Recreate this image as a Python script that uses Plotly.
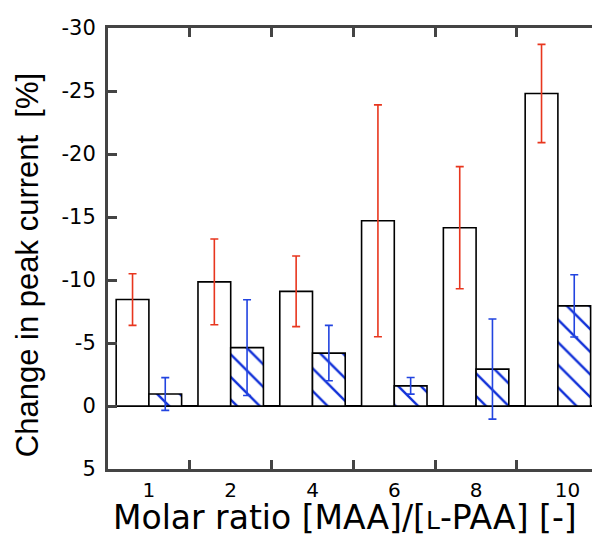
import plotly.graph_objects as go

categories = ["1", "2", "4", "6", "8", "10"]
tick_text = ["1", "2", "4", "6", "8", "\u00a0\u00a0\u00a010"]

# series A: white bars (red error bars)
white_vals = [-8.45, -9.85, -9.1, -14.7, -14.15, -24.8]
white_err = [2.05, 3.4, 2.8, 9.2, 4.85, 3.9]

# series B: hatched bars (blue error bars)
hatch_vals = [-0.95, -4.63, -4.2, -1.6, -2.93, -7.95]
hatch_err = [1.3, 3.8, 2.2, 0.66, 3.97, 2.47]

y_tick_vals = [5, 0, -5, -10, -15, -20, -25, -30]
y_tick_text = ["5", "0", "-5", "-10", "-15", "-20", "-25", "-30"]

fig = go.Figure()
fig.add_trace(go.Bar(
    x=categories, y=white_vals,
    marker=dict(color="white", line=dict(color="black", width=1.6)),
    error_y=dict(type="data", array=white_err, visible=True,
                 color="#e8361e", thickness=1.6, width=4),
    showlegend=False, hoverinfo="skip",
))
fig.add_trace(go.Bar(
    x=categories, y=hatch_vals,
    marker=dict(color="white", line=dict(color="black", width=1.6),
                pattern=dict(shape="\\", fgcolor="#1030d8", bgcolor="white",
                             fgopacity=1, size=16, solidity=0.15)),
    error_y=dict(type="data", array=hatch_err, visible=True,
                 color="#2244e0", thickness=1.6, width=4),
    showlegend=False, hoverinfo="skip",
))

axis_color = "#444444"
fig.update_layout(
    width=592, height=536,
    margin=dict(l=108, r=0, t=28, b=67),
    plot_bgcolor="white", paper_bgcolor="white",
    barmode="group", bargap=0.2, bargroupgap=0,
    xaxis=dict(
        type="category", tickson="boundaries",
        range=[-0.5, 5.417],
        tickvals=categories, ticktext=tick_text,
        showline=True, linecolor=axis_color, linewidth=3, mirror="ticks",
        ticks="inside", ticklen=9, tickwidth=2.5, tickcolor=axis_color,
        showgrid=False, zeroline=False,
        tickfont=dict(family="DejaVu Sans", size=20, color="black"),
        ticklabelstandoff=1,
    ),
    yaxis=dict(
        range=[5, -30], autorange=False,
        tickvals=y_tick_vals, ticktext=y_tick_text,
        showline=True, linecolor=axis_color, linewidth=3, mirror=False,
        ticks="inside", ticklen=9, tickwidth=2.5, tickcolor=axis_color,
        showgrid=False, zeroline=True, zerolinecolor="black", zerolinewidth=1.6,
        tickfont=dict(family="DejaVu Sans", size=21, color="black"),
        ticklabelstandoff=5,
    ),
    annotations=[
        dict(text="Molar ratio [MAA]/[<span style='font-size:25px'>L</span>-PAA] [-]",
             xref="paper", yref="paper", x=0.49, y=-0.109,
             xanchor="center", yanchor="middle", showarrow=False,
             font=dict(family="DejaVu Sans", size=33, color="black")),
        dict(text="Change in peak current  [%]",
             xref="paper", yref="paper", x=-0.165, y=0.4626, textangle=-90,
             xanchor="center", yanchor="middle", showarrow=False,
             font=dict(family="Liberation Sans", size=31, color="black")),
    ],
)

fig.write_html(
    "out.html",
    config={"displayModeBar": False},
    post_script="document.body.style.margin='0';document.body.style.overflow='hidden';",
)
